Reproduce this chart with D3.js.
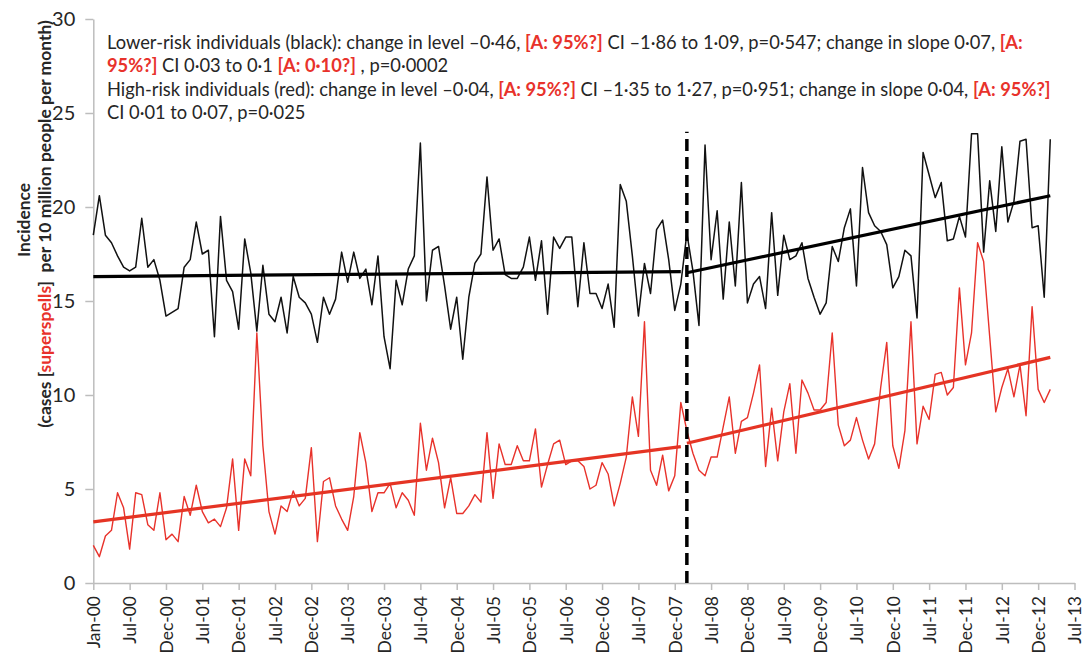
<!DOCTYPE html>
<html><head><meta charset="utf-8">
<script src="https://cdn.jsdelivr.net/npm/d3@7"></script>
<style>
body{margin:0;background:#fff}
svg{display:block}
text{font-family:Lato,"Open Sans",sans-serif}
</style>
</head><body>
<svg id="chart" width="1084" height="662"></svg>
<script>
// ---------- data (monthly, month 0 = Jan-00) ----------
const lowerRisk = [
 18.5,20.6,18.5,18.1,17.4,16.8,16.6,16.8,19.4,16.8,17.2,16.1,
 14.2,14.4,14.6,16.8,17.2,19.2,17.5,17.7,13.1,19.5,16.1,15.5,
 13.5,18.3,16.5,13.4,16.9,14.3,13.9,15.2,13.3,16.3,15.2,14.9,
 14.3,12.8,15.2,14.3,15.1,17.6,16.0,17.6,16.2,16.7,14.8,17.4,
 13.1,11.4,16.1,14.8,16.7,17.4,23.4,15.0,17.7,17.9,15.8,13.5,
 15.2,11.9,15.2,17.0,17.5,21.6,17.7,18.3,16.4,16.2,16.2,16.8,
 18.4,16.1,18.2,14.3,18.4,17.8,18.4,18.4,14.7,18.1,15.4,15.4,
 14.6,15.9,13.6,21.2,20.3,17.4,14.2,17.0,15.4,18.8,19.3,17.2,
 14.5,15.9,18.6,16.6,13.7,23.3,17.2,19.8,15.1,19.2,15.8,21.3,
 14.9,15.9,16.3,14.6,19.7,15.3,18.5,17.2,17.4,18.1,16.2,15.2,
 14.3,14.9,17.9,17.1,18.9,19.9,15.8,22.1,19.7,19.0,18.7,18.0,
 15.7,16.3,17.7,17.4,14.1,22.9,21.7,20.5,21.3,18.2,18.3,19.5,
 18.4,23.9,23.9,17.6,21.4,18.7,23.2,19.2,20.3,23.5,23.6,18.9,
 19.0,15.2,23.6
];
const highRisk = [
 2.0,1.4,2.5,2.8,4.8,4.0,1.8,4.8,4.7,3.1,2.8,4.8,
 2.3,2.6,2.2,4.6,3.6,5.2,3.8,3.2,3.4,3.0,4.0,6.6,
 2.8,6.6,5.7,13.3,7.3,3.8,2.6,4.1,3.8,4.9,4.1,4.5,
 7.2,2.2,5.4,5.6,4.1,3.4,2.8,4.6,8.0,6.4,3.8,4.8,
 4.8,5.3,4.0,4.8,4.4,3.6,8.5,6.0,7.7,6.4,4.0,5.6,
 3.7,3.7,4.1,4.7,4.3,8.0,4.5,7.4,6.3,6.3,7.3,6.5,
 6.5,8.2,5.1,6.3,7.4,7.6,6.3,6.5,6.5,6.2,5.0,5.2,
 6.4,5.8,4.1,5.3,6.7,9.9,7.8,13.9,6.0,5.2,6.8,4.9,
 5.7,9.6,8.1,6.9,6.0,5.7,6.7,6.7,8.3,9.9,6.9,8.6,
 8.8,10.1,11.6,6.2,9.3,6.5,9.1,10.6,6.9,10.8,10.1,9.2,
 9.2,9.6,13.3,8.4,7.3,7.6,8.8,7.6,6.6,7.4,10.4,12.8,
 7.3,6.1,8.1,13.9,7.4,9.4,8.7,11.1,11.2,10.0,10.4,15.7,
 11.6,13.3,18.1,17.1,13.1,9.1,10.4,11.4,9.9,11.6,8.9,14.7,
 10.3,9.6,10.3
];
// segmented-regression trend lines: [startMonth, startValue, endMonth, endValue]
const lowerTrendPre  = [0, 16.3, 97, 16.56];
const lowerTrendPost = [98, 16.5, 158, 20.6];
const highTrendPre   = [0, 3.25, 97, 7.25];
const highTrendPost  = [98, 7.43, 158, 12.0];
const interventionMonth = 98;
const interventionTop = 24;

const xTickLabels = ["Jan-00","Jul-00","Dec-00","Jul-01","Dec-01","Jul-02","Dec-02","Jul-03","Dec-03","Jul-04","Dec-04","Jul-05","Dec-05","Jul-06","Dec-06","Jul-07","Dec-07","Jul-08","Dec-08","Jul-09","Dec-09","Jul-10","Dec-10","Jul-11","Dec-11","Jul-12","Dec-12","Jul-13"];
const yTicks = [0,5,10,15,20,25,30];

const annotationLines = [
 [["Lower-risk individuals (black): change in level –0·46, ",0],["[A: 95%?]",1],[" CI –1·86 to 1·09, p=0·547; change in slope 0·07, ",0],["[A:",1]],
 [["95%?]",1],[" CI 0·03 to 0·1 ",0],["[A: 0·10?]",1],[" , p=0·0002",0]],
 [["High-risk individuals (red): change in level –0·04, ",0],["[A: 95%?]",1],[" CI –1·35 to 1·27, p=0·951; change in slope 0·04, ",0],["[A: 95%?]",1]],
 [["CI 0·01 to 0·07, p=0·025",0]]
];
const yTitle1 = "Incidence";
const yTitle2 = [["(cases [",0],["superspells",1],["]  per 10 million people per month)",0]];

// ---------- drawing ----------
const RED = "#e8322b", AX = "#bdbdbd", TXT = "#262626";
const svg = d3.select("#chart");
const x = d3.scaleLinear().domain([0,162]).range([93.3,1074.5]);
const y = d3.scaleLinear().domain([0,30]).range([583,19]);

// y axis
const ya = svg.append("g").attr("transform","translate(93.3,0)")
  .call(d3.axisLeft(y).tickValues(yTicks).tickSize(8).tickSizeOuter(0).tickPadding(10));
ya.select(".domain").attr("stroke",AX).attr("stroke-width",1.5);
ya.selectAll(".tick line").attr("stroke",AX).attr("stroke-width",1.5);
ya.selectAll(".tick text").attr("font-size",20).attr("fill",TXT).attr("font-family","Lato");

// x axis
const xa = svg.append("g").attr("transform","translate(0,583)")
  .call(d3.axisBottom(x).tickValues(d3.range(0,163,6)).tickFormat((d,i)=>xTickLabels[i]).tickSize(7).tickSizeOuter(0));
xa.select(".domain").attr("stroke",AX).attr("stroke-width",1.5);
xa.selectAll(".tick line").attr("stroke",AX).attr("stroke-width",1.5);
xa.selectAll(".tick text").attr("font-size",17.5).attr("fill",TXT).attr("font-family","Lato")
  .attr("transform","rotate(-90)").attr("x",-13).attr("y",0).attr("dy","0.36em").style("text-anchor","end");

// data lines
const line = d3.line().x((d,i)=>x(i)).y(d=>y(d));
svg.append("path").datum(lowerRisk).attr("d",line).attr("fill","none").attr("stroke","#111").attr("stroke-width",1.5).attr("stroke-linejoin","round");
svg.append("path").datum(highRisk).attr("d",line).attr("fill","none").attr("stroke",RED).attr("stroke-width",1.4).attr("stroke-linejoin","round");

// trend lines
function trend(seg,color){
  svg.append("line").attr("x1",x(seg[0])).attr("y1",y(seg[1])).attr("x2",x(seg[2])).attr("y2",y(seg[3]))
    .attr("stroke",color).attr("stroke-width",3.2);
}
trend(lowerTrendPre,"#000"); trend(lowerTrendPost,"#000");
trend(highTrendPre,"#e53424"); trend(highTrendPost,"#e53424");

// intervention dashed line
svg.append("line").attr("x1",x(interventionMonth)).attr("x2",x(interventionMonth))
  .attr("y1",y(0)).attr("y2",y(interventionTop))
  .attr("stroke","#000").attr("stroke-width",3.5).attr("stroke-dasharray","12,6");

// annotation
const ann = svg.append("g");
const baseY = [49,72,96,119];
annotationLines.forEach((ln,i)=>{
  const t = ann.append("text").attr("x",107).attr("y",baseY[i]).attr("font-size",16).attr("fill",TXT).style("white-space","pre");
  ln.forEach(p=>{
    t.append("tspan").text(p[0]).attr("fill",p[1]?RED:TXT).attr("font-weight",p[1]?"bold":"normal");
  });
});
const firstLen = ann.select("text").node().getComputedTextLength();
ann.selectAll("text").attr("font-size",16*916/firstLen);

// y title
const t1 = svg.append("text").attr("transform","translate(24,220) rotate(-90)").attr("text-anchor","middle").attr("dy","0.35em")
  .attr("font-size",14).attr("font-weight","bold").attr("fill",TXT).text(yTitle1);
t1.attr("font-size",14*74/t1.node().getComputedTextLength());
const t2 = svg.append("text").attr("transform","translate(45,224) rotate(-90)").attr("text-anchor","middle").attr("dy","0.35em")
  .attr("font-size",14).attr("font-weight","bold").attr("fill",TXT).style("white-space","pre");
yTitle2.forEach(p=>t2.append("tspan").text(p[0]).attr("fill",p[1]?RED:TXT));
t2.attr("font-size",14*408/t2.node().getComputedTextLength());
</script>
</body></html>
